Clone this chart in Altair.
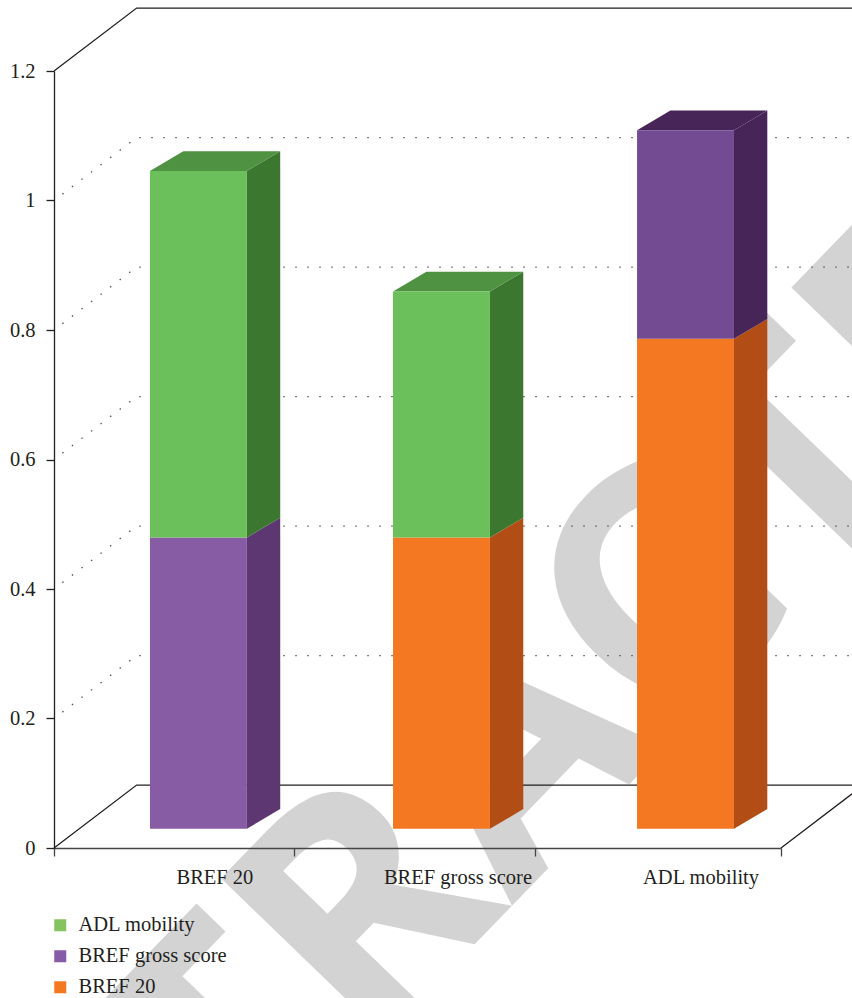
import altair as alt
import pandas as pd

# Chart values
categories = ["BREF 20", "BREF gross score", "ADL mobility"]
series_names = ["ADL mobility", "BREF gross score", "BREF 20"]
legend_colors = ["#85c260", "#875ca6", "#f47721"]
y_ticks = [0, 0.2, 0.4, 0.6, 0.8, 1, 1.2]
x_tick_positions = [0, 0.99, 1.984, 3]

# Stacked segments of each column, bottom to top
segment_series = [["BREF gross score", "ADL mobility"],
                  ["BREF 20", "ADL mobility"],
                  ["BREF 20", "BREF gross score"]]
segment_values = [[0.450, 0.566], [0.450, 0.380], [0.757, 0.322]]
front_colors = [["#885ba5", "#6cc05b"], ["#f47721", "#6cc05b"], ["#f47721", "#724b92"]]
side_colors = [["#5c3771", "#3b772e"], ["#b24e15", "#3b772e"], ["#b24e15", "#472558"]]
top_colors = ["#4f9241", "#4f9241", "#472558"]

# Column placement in category units
column_left = [0.396, 1.399, 2.406]
column_width = 0.400
label_center = [0.664, 1.667, 2.670]

# Pseudo-3D projection: depth of the box and depth of each column
wall_dx, wall_dy = 0.341, 0.0972
col_dx, col_dy = 0.1375, 0.0305
col_base = 0.0296

FONT = "Liberation Serif"
INK = "#231f20"

x_scale = alt.Scale(domain=[0, 3], nice=False, zero=False)
y_scale = alt.Scale(domain=[0, 1.2], nice=False, zero=False)

fronts, sides, tops = [], [], []
for i, cat in enumerate(categories):
    left = column_left[i]
    right = left + column_width
    level = col_base
    for j, val in enumerate(segment_values[i]):
        upper = level + val
        fronts.append(dict(x=left, x2=right, y=level, y2=upper, fill=front_colors[i][j]))
        face = f"{cat}-{j}"
        sides.append(dict(face=face, x=right, y=level, y2=upper, fill=side_colors[i][j]))
        sides.append(dict(face=face, x=right + col_dx, y=level + col_dy, y2=upper + col_dy,
                          fill=side_colors[i][j]))
        level = upper
    tops.append(dict(face=cat, y=level, x=left, x2=right, fill=top_colors[i]))
    tops.append(dict(face=cat, y=level + col_dy, x=left + col_dx, x2=right + col_dx,
                     fill=top_colors[i]))

grid_rows = []
for v in y_ticks[1:-1]:
    grid_rows += [dict(v=v, step=0, x=0, y=v),
                  dict(v=v, step=1, x=wall_dx, y=v + wall_dy),
                  dict(v=v, step=2, x=3 + wall_dx, y=v + wall_dy)]

# Solid outlines of the box: top edge of the back wall and the floor
outline_rows = [
    dict(edge="top", step=0, x=0, y=1.2),
    dict(edge="top", step=1, x=wall_dx, y=1.2 + wall_dy),
    dict(edge="top", step=2, x=3 + wall_dx, y=1.2 + wall_dy),
    dict(edge="floor", step=0, x=0, y=0),
    dict(edge="floor", step=1, x=wall_dx, y=wall_dy),
    dict(edge="floor", step=2, x=3 + wall_dx, y=wall_dy),
    dict(edge="floor", step=3, x=3, y=0),
]

x_q = alt.X("x:Q", scale=x_scale, title=None,
            axis=alt.Axis(values=x_tick_positions, labels=False, grid=False, tickSize=8,
                          tickColor="#444444", domainColor="#444444", domainWidth=1.3,
                          tickWidth=1.3, zindex=1))
y_q = alt.Y("y:Q", scale=y_scale, title=None,
            axis=alt.Axis(values=y_ticks, format="~g", grid=False, tickSize=8, labelPadding=11,
                          labelFont=FONT, labelFontSize=20.5, labelColor=INK, tickColor=INK,
                          domainColor=INK, domainWidth=1.3, tickWidth=1.3, zindex=1))

watermark = alt.Chart(pd.DataFrame({"t": ["RETRACTED"]})).mark_text(
    font="Open Sans", fontWeight="bold", fontSize=320, angle=314, color="#d3d3d3",
    align="center", baseline="middle"
).encode(text="t:N", x=alt.value(472), y=alt.value(682))

grid = alt.Chart(pd.DataFrame(grid_rows)).mark_line(
    color="#555555", strokeWidth=1.3, strokeDash=[1.5, 10.5], strokeDashOffset=1.5
).encode(x=x_q, y=y_q, detail="v:N", order="step:Q")

outline = alt.Chart(pd.DataFrame(outline_rows)).mark_line(
    color=INK, strokeWidth=1.3
).encode(x=x_q, y=y_q, detail="edge:N", order="step:Q")

side_faces = alt.Chart(pd.DataFrame(sides)).mark_area(orient="vertical", opacity=1).encode(
    x=x_q, y=y_q, y2="y2:Q",
    fill=alt.Fill("fill:N", scale=None),
    detail="face:N",
)

top_faces = alt.Chart(pd.DataFrame(tops)).mark_area(orient="horizontal", opacity=1).encode(
    y=y_q, x=x_q, x2="x2:Q",
    fill=alt.Fill("fill:N", scale=None),
    detail="face:N",
)

front_faces = alt.Chart(pd.DataFrame(fronts)).mark_rect().encode(
    x=x_q, x2="x2:Q", y=y_q, y2="y2:Q",
    fill=alt.Fill("fill:N", scale=None),
)

category_labels = alt.Chart(pd.DataFrame({"name": categories, "x": label_center, "y": [0, 0, 0]})).mark_text(
    font=FONT, fontSize=20.5, color=INK, baseline="middle", dy=30
).encode(x=x_q, y=y_q, text="name:N")

# Carries the colour scale so the legend lists all three series
legend_layer = alt.Chart(pd.DataFrame({"series": series_names, "x": [0, 0, 0], "y": [0, 0, 0]})).mark_point(
    filled=True, opacity=0, size=1
).encode(
    x=x_q, y=y_q,
    color=alt.Color(
        "series:N",
        scale=alt.Scale(domain=series_names, range=legend_colors),
        sort=series_names,
        legend=alt.Legend(orient="none", legendX=-4, legendY=844, title=None, symbolType="square",
                          symbolSize=144, symbolOpacity=1, symbolStrokeWidth=0, labelFont=FONT,
                          labelFontSize=20.5, labelColor=INK, labelOffset=8, rowPadding=10, padding=0),
    ),
)

chart = alt.layer(
    watermark, grid, outline, side_faces, top_faces, front_faces, category_labels, legend_layer
).properties(
    width=727, height=777,
    padding={"left": 54, "top": 71, "right": 71, "bottom": 150},
    autosize=alt.AutoSizeParams(type="none"),
    background="white",
).configure_view(stroke=None)

chart.save("out.html", embed_options={"renderer": "svg", "actions": False})
